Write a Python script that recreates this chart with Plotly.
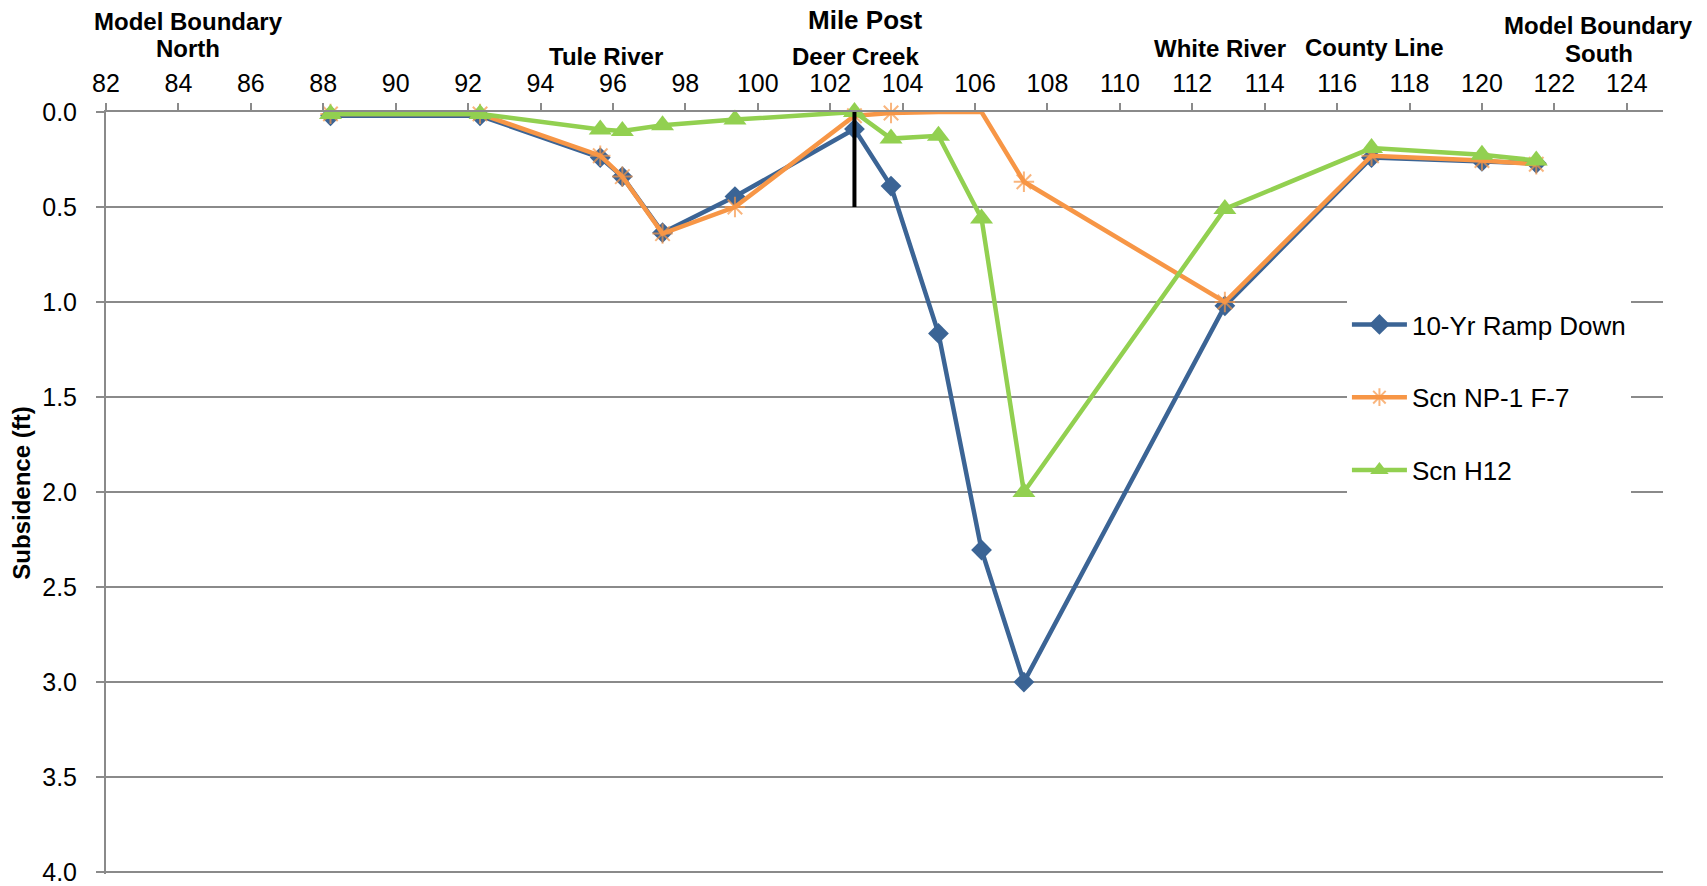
import plotly.graph_objects as go

# Mile posts where subsidence was evaluated
mile_post = [88.2, 92.33, 95.65, 96.26, 97.37, 99.37, 102.67, 103.68,
             104.99, 106.18, 107.35, 112.9, 116.95, 120.0, 121.5]

# Subsidence (ft) per scenario
ramp_down = [0.02, 0.02, 0.24, 0.34, 0.635, 0.445, 0.09, 0.39,
             1.165, 2.305, 3.0, 1.02, 0.24, 0.26, 0.27]
np1_f7 = [0.01, 0.01, 0.23, 0.34, 0.64, 0.50, 0.02, 0.005,
          0.0, 0.0, 0.367, 1.0, 0.23, 0.255, 0.275]
scn_h12 = [0.01, 0.01, 0.092, 0.10, 0.07, 0.04, 0.0, 0.14,
           0.125, 0.56, 2.0, 0.51, 0.19, 0.225, 0.255]

series_names = ["10-Yr Ramp Down", "Scn NP-1 F-7", "Scn H12"]

# Landmarks along the canal (label lines and mile post of each line)
landmark_lines = ["Model Boundary", "North", "Mile Post", "Tule River", "Deer Creek",
                  "White River", "County Line", "Model Boundary", "South"]
landmark_mp = [84.27, 84.27, 102.96, 95.81, 102.71, 112.76, 117.03, 123.23, 123.23]

# Deer Creek marker
deer_creek_mp = 102.67
deer_creek_depth = [0.0, 0.5]

x_ticks = list(range(82, 125, 2))
y_ticks = [0.0, 0.5, 1.0, 1.5, 2.0, 2.5, 3.0, 3.5, 4.0]

FONT = "Arial, Liberation Sans, sans-serif"
GRID = "#8A8A8A"

fig = go.Figure()

fig.add_trace(go.Scatter(
    x=mile_post, y=ramp_down, name=series_names[0], mode="lines+markers",
    line=dict(color="#3B6495", width=4.5),
    marker=dict(symbol="diamond", size=16, color="#3B6495"),
    cliponaxis=False, legendgroup="a",
))

orange_sizes = [17] * len(mile_post)
orange_sizes[8] = 0
orange_sizes[9] = 0
fig.add_trace(go.Scatter(
    x=mile_post, y=np1_f7, name=series_names[1], mode="lines+markers",
    line=dict(color="#F79646", width=4.5),
    marker=dict(symbol="asterisk-open", size=orange_sizes, color="#F79646",
                line=dict(color="#F79646", width=2)),
    cliponaxis=False, legendgroup="b",
))

fig.add_trace(go.Scatter(
    x=mile_post, y=scn_h12, name=series_names[2], mode="lines+markers",
    line=dict(color="#92D050", width=4.5),
    marker=dict(symbol="triangle-up", size=20, color="#92D050"),
    cliponaxis=False, legendgroup="c",
))

fig.add_shape(type="line", xref="x", yref="y",
              x0=deer_creek_mp, x1=deer_creek_mp,
              y0=deer_creek_depth[0], y1=deer_creek_depth[1],
              line=dict(color="black", width=4), layer="above")

# label vertical centres (px from the top of the page) and font sizes
label_px = [21.7, 49, 19.5, 56, 56, 49, 47, 26, 54]
label_size = [24, 24, 26, 24, 24, 24, 24, 24, 24]
plot_top, plot_h = 112, 762
for text, mp, py, sz in zip(landmark_lines, landmark_mp, label_px, label_size):
    fig.add_annotation(
        x=mp, xref="x", y=1 + (plot_top - py) / plot_h, yref="paper",
        text=f"<b>{text}</b>", showarrow=False,
        xanchor="center", yanchor="middle",
        font=dict(family=FONT, size=sz, color="black"),
    )

fig.update_layout(
    width=1707, height=886,
    margin=dict(l=106, r=44, t=112, b=12, autoexpand=False),
    paper_bgcolor="white", plot_bgcolor="white",
    font=dict(family=FONT, color="black"),
    showlegend=True,
    legend=dict(
        x=0.797, xanchor="left", y=0.752, yanchor="top",
        bgcolor="white", font=dict(family=FONT, size=26, color="black"),
        itemwidth=55, tracegroupgap=36,
    ),
    xaxis=dict(
        side="top", range=[82, 125], tickmode="array", tickvals=x_ticks,
        ticktext=[str(v) for v in x_ticks],
        showgrid=False, zeroline=False, automargin=False,
        showline=True, linecolor=GRID, linewidth=2,
        ticks="outside", ticklen=7, tickcolor=GRID, tickwidth=2,
        tickfont=dict(family=FONT, size=25, color="black"),
        ticklabelstandoff=1,
    ),
    yaxis=dict(
        range=[4.01, 0.0], tickmode="array", tickvals=y_ticks,
        ticktext=[f"{v:.1f}" for v in y_ticks],
        showgrid=True, gridcolor=GRID, gridwidth=2, zeroline=False,
        automargin=False,
        showline=True, linecolor=GRID, linewidth=2,
        ticks="outside", ticklen=8, tickcolor=GRID, tickwidth=2,
        tickfont=dict(family=FONT, size=25, color="black"),
        ticklabelstandoff=14, ticklabeloverflow="allow",
        title=dict(text="<b>Subsidence (ft)</b>",
                   font=dict(family=FONT, size=24, color="black"), standoff=5),
    ),
)

fig.write_html("out.html")
